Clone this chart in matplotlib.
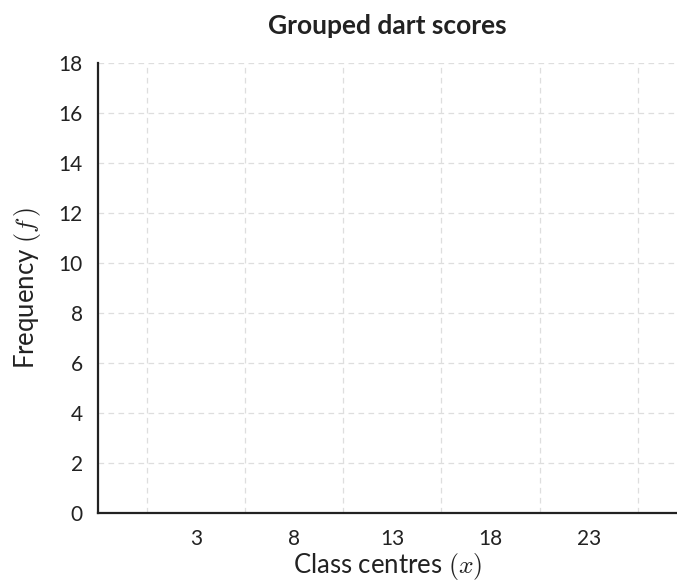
import numpy as np
import matplotlib
matplotlib.use('Agg')
import matplotlib.pyplot as plt

plt.rcParams['font.family'] = ['Lato', 'DejaVu Sans']
plt.rcParams['mathtext.fontset'] = 'cm'

# class centres shown on the x axis and the class boundaries (grid lines)
classCentres = [3, 8, 13, 18, 23]
classBounds = [0.5, 5.5, 10.5, 15.5, 20.5, 25.5]
freqTicks = [0, 2, 4, 6, 8, 10, 12, 14, 16, 18]

titleStr = 'Grouped dart scores'
xLabelStr = 'Class centres $(x)$'
yLabelStr = 'Frequency $(f\\,)$'

fig = plt.figure(figsize=(6.77, 5.81), dpi=100)
ax = fig.add_axes([0.1448, 0.1176, 0.8552, 0.7744])

ax.set_xlim(-2, 27.5)
ax.set_ylim(0, 18)

ax.set_xticks(classBounds, minor=True)
ax.set_xticks(classCentres)
ax.set_xticklabels([str(c) for c in classCentres])
ax.set_yticks(freqTicks)

gridStyle = dict(color='#dedede', linestyle=(0, (4.5, 3.5)), linewidth=0.9)
ax.xaxis.grid(which='minor', **gridStyle)
ax.yaxis.grid(which='major', **gridStyle)
ax.xaxis.grid(which='major', visible=False)
ax.set_axisbelow(True)

ax.tick_params(which='both', length=0, labelsize=15, colors='#222222')
ax.tick_params(axis='x', pad=12)
ax.tick_params(axis='y', pad=11)

for side in ['top', 'right']:
    ax.spines[side].set_visible(False)
for side in ['left', 'bottom']:
    ax.spines[side].set_linewidth(1.6)
    ax.spines[side].set_color('#222222')

ax.set_title(titleStr, fontsize=19, fontweight='bold', color='#222222', pad=21)
ax.set_xlabel(xLabelStr, fontsize=18.5, color='#222222', labelpad=1)
ax.set_ylabel(yLabelStr, fontsize=18.5, color='#222222', labelpad=11)

plt.savefig('out.png', dpi=100)
